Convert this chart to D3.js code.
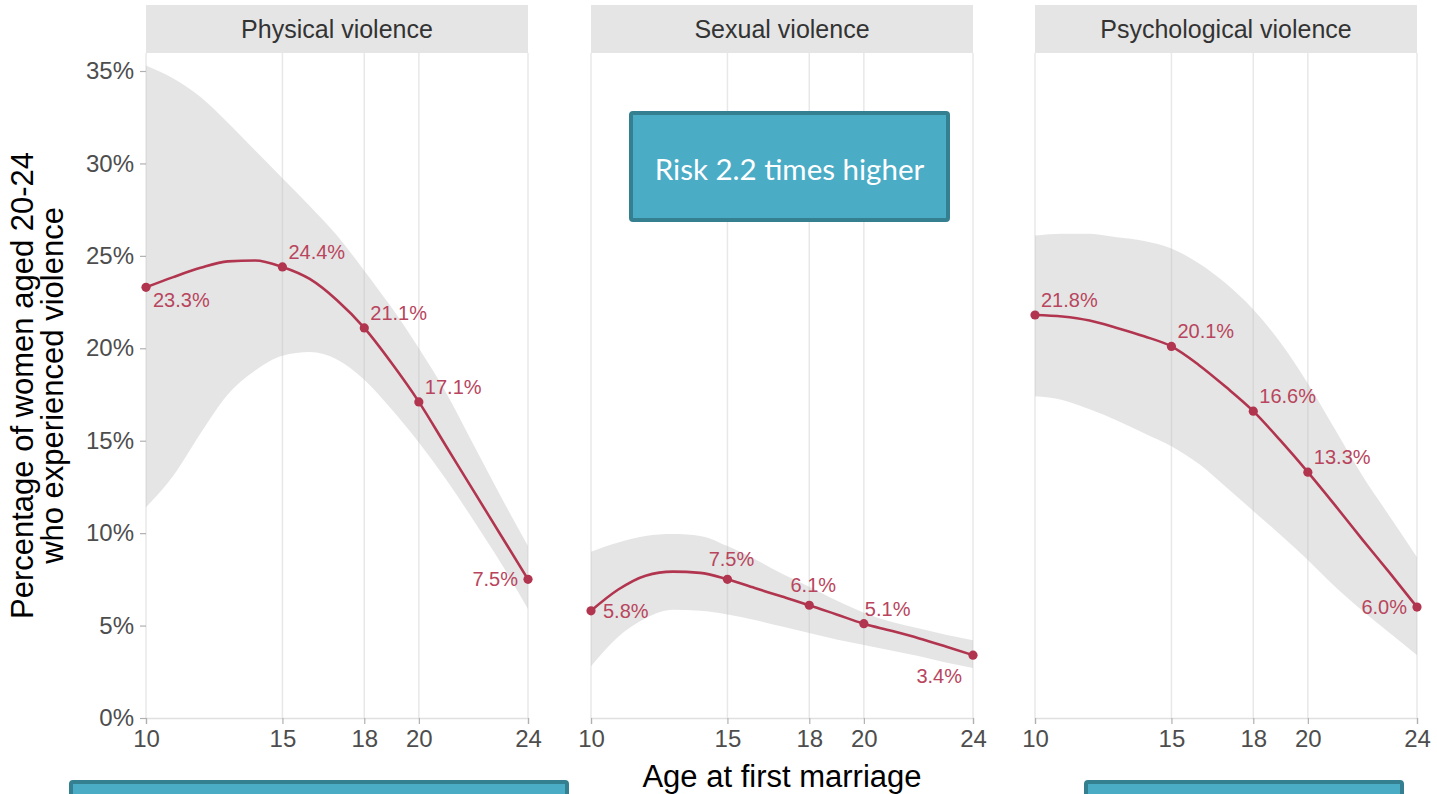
<!DOCTYPE html>
<html>
<head>
<meta charset="utf-8">
<script src="https://cdn.jsdelivr.net/npm/d3@7"></script>
<style>
  html, body { margin: 0; padding: 0; background: #ffffff; }
  svg { display: block; }
</style>
</head>
<body>
<svg id="chart" width="1437" height="794"></svg>
<script>
// ---------------- DATA ----------------
const panelNames = ["Physical violence", "Sexual violence", "Psychological violence"];
const ages = [10, 15, 18, 20, 24];
const physical = [23.3, 24.4, 21.1, 17.1, 7.5];
const sexual = [5.8, 7.5, 6.1, 5.1, 3.4];
const psychological = [21.8, 20.1, 16.6, 13.3, 6.0];

// fitted curve and confidence band read at each single year of age
const curveAges = [10, 11, 12, 13, 14, 15, 16, 17, 18, 19, 20, 21, 22, 23, 24];
const physicalFit = [23.3, 23.85, 24.35, 24.7, 24.75, 24.4, 23.75, 22.6, 21.1, 19.2, 17.1, 14.7, 12.3, 9.9, 7.5];
const sexualFit = [5.8, 6.95, 7.7, 7.92, 7.85, 7.5, 7.03, 6.57, 6.1, 5.6, 5.1, 4.72, 4.32, 3.87, 3.4];
const psychFit = [21.8, 21.72, 21.5, 21.1, 20.65, 20.1, 19.1, 17.9, 16.6, 15.0, 13.3, 11.5, 9.65, 7.85, 6.0];

const physicalUpper = [35.3, 34.6, 33.6, 32.2, 30.7, 29.2, 27.7, 26.1, 24.2, 22.2, 20.0, 17.6, 14.8, 12.0, 9.3];
const physicalLower = [11.4, 13.1, 15.4, 17.5, 18.8, 19.6, 19.8, 19.4, 18.3, 16.7, 14.9, 12.9, 10.7, 8.4, 5.9];
const sexualUpper = [9.0, 9.5, 9.85, 9.95, 9.85, 9.3, 8.6, 7.8, 7.1, 6.35, 5.7, 5.2, 4.85, 4.5, 4.2];
const sexualLower = [2.8, 4.4, 5.4, 5.85, 5.8, 5.6, 5.3, 4.95, 4.6, 4.25, 3.95, 3.65, 3.35, 3.0, 2.7];
const psychUpper = [26.1, 26.2, 26.2, 26.0, 25.8, 25.4, 24.6, 23.5, 22.1, 20.3, 18.1, 15.6, 13.1, 10.9, 8.7];
const psychLower = [17.4, 17.2, 16.7, 16.1, 15.4, 14.7, 13.75, 12.5, 11.2, 9.9, 8.55, 7.1, 5.8, 4.6, 3.4];

const yTicks = [0, 5, 10, 15, 20, 25, 30, 35];
const xTicks = [10, 15, 18, 20, 24];

const yTitleLines = ["Percentage of women aged 20-24", "who experienced violence"];
const xTitle = "Age at first marriage";
const calloutText = "Risk 2.2 times higher";

// ---------------- LAYOUT / STYLE ----------------
const seriesValues = [physical, sexual, psychological];
const seriesFit = [physicalFit, sexualFit, psychFit];
const seriesUpper = [physicalUpper, sexualUpper, psychUpper];
const seriesLower = [physicalLower, sexualLower, psychLower];
// label placement codes per panel (style, not data)
const labelPlacement = [
  ["se", "ne", "ne", "ne", "w"],
  ["e", "n", "n", "nr", "sw"],
  ["ne", "ne", "ne", "ne", "w"]
];
const placeDefs = {
  se: { dx: 7, dy: 20, anchor: "start" },
  ne: { dx: 6, dy: -8, anchor: "start" },
  nr: { dx: 1, dy: -8, anchor: "start" },
  n:  { dx: 4, dy: -13, anchor: "middle" },
  e:  { dx: 12, dy: 7, anchor: "start" },
  w:  { dx: -10, dy: 7, anchor: "end" },
  sw: { dx: -11, dy: 28, anchor: "end" }
};

const panelLefts = [146, 591, 1035];
const panelWidth = 382;
const panelTop = 53;
const stripTop = 5;
const plotBottom = 718;

const lineColor = "#b1354f";
const labelColor = "#b8455d";
const font = "'Liberation Sans', Arial, Helvetica, sans-serif";

const svg = d3.select("#chart");

const y = d3.scaleLinear().domain([0, 35]).range([plotBottom, 71]);

panelNames.forEach((name, pi) => {
  const left = panelLefts[pi];
  const x = d3.scaleLinear().domain([10, 24]).range([left, left + panelWidth]);
  const g = svg.append("g");

  // strip
  g.append("rect")
    .attr("x", left).attr("y", stripTop)
    .attr("width", panelWidth).attr("height", panelTop - stripTop)
    .attr("fill", "#e5e5e5");
  g.append("text")
    .attr("x", left + panelWidth / 2).attr("y", (stripTop + panelTop) / 2)
    .attr("text-anchor", "middle").attr("dominant-baseline", "central")
    .attr("font-family", font).attr("font-size", 25).attr("fill", "#333333")
    .text(name);

  // vertical gridlines
  g.selectAll("line.grid").data(xTicks).enter().append("line")
    .attr("x1", d => x(d)).attr("x2", d => x(d))
    .attr("y1", panelTop).attr("y2", plotBottom)
    .attr("stroke", "#e8e8e8").attr("stroke-width", 1.5);

  // x axis
  const xAxis = d3.axisBottom(x).tickValues(xTicks).tickSize(6).tickPadding(6).tickFormat(d3.format("d"));
  const ax = g.append("g").attr("transform", `translate(0,${plotBottom})`).call(xAxis);
  ax.select(".domain").attr("stroke", "#e0e0e0").attr("stroke-width", 1.5);
  ax.selectAll(".tick line").attr("stroke", "#b0b0b0").attr("stroke-width", 1.2);
  ax.selectAll(".tick text").attr("font-family", font).attr("font-size", 24).attr("fill", "#4d4d4d");

  // band
  const bandData = curveAges.map((a, i) => ({ a, lo: seriesLower[pi][i], hi: seriesUpper[pi][i] }));
  const area = d3.area()
    .x(d => x(d.a)).y0(d => y(d.lo)).y1(d => y(d.hi))
    .curve(d3.curveMonotoneX);
  g.append("path").datum(bandData)
    .attr("d", area)
    .attr("fill", "#bdbdbd").attr("fill-opacity", 0.4);

  // fitted line
  const fit = curveAges.map((a, i) => ({ a, v: seriesFit[pi][i] }));
  const line = d3.line().x(d => x(d.a)).y(d => y(d.v)).curve(d3.curveMonotoneX);
  g.append("path").datum(fit)
    .attr("d", line)
    .attr("fill", "none").attr("stroke", lineColor).attr("stroke-width", 2.6);

  // observed points
  const pts = ages.map((a, i) => ({ a, v: seriesValues[pi][i] }));
  g.selectAll("circle.pt").data(pts).enter().append("circle")
    .attr("cx", d => x(d.a)).attr("cy", d => y(d.v)).attr("r", 4.6)
    .attr("fill", lineColor);

  g.selectAll("text.lbl").data(pts).enter().append("text")
    .attr("x", (d, i) => x(d.a) + placeDefs[labelPlacement[pi][i]].dx)
    .attr("y", (d, i) => y(d.v) + placeDefs[labelPlacement[pi][i]].dy)
    .attr("text-anchor", (d, i) => placeDefs[labelPlacement[pi][i]].anchor)
    .attr("font-family", font).attr("font-size", 20).attr("fill", labelColor)
    .text(d => d.v.toFixed(1) + "%");

  // y axis for first panel
  if (pi === 0) {
    const yAxis = d3.axisLeft(y).tickValues(yTicks).tickSize(6).tickPadding(6).tickFormat(d => d + "%");
    const ay = g.append("g").attr("transform", `translate(${left},0)`).call(yAxis);
    ay.select(".domain").remove();
    ay.selectAll(".tick line").attr("stroke", "#b0b0b0").attr("stroke-width", 1.2);
    ay.selectAll(".tick text").attr("font-family", font).attr("font-size", 24).attr("fill", "#4d4d4d");
  }
});

// axis titles
const yt = svg.append("text")
  .attr("transform", `translate(0,${(panelTop + plotBottom) / 2}) rotate(-90)`)
  .attr("text-anchor", "middle")
  .attr("font-family", font).attr("font-size", 31).attr("fill", "#000");
yTitleLines.forEach((t, i) => {
  yt.append("tspan").attr("x", 0).attr("y", 33 + i * 30).text(t);
});

svg.append("text")
  .attr("x", panelLefts[1] + panelWidth / 2).attr("y", 787)
  .attr("text-anchor", "middle")
  .attr("font-family", font).attr("font-size", 31).attr("fill", "#000")
  .text(xTitle);

// callout boxes
function box(x0, y0, w, h) {
  svg.append("rect")
    .attr("x", x0).attr("y", y0).attr("width", w).attr("height", h)
    .attr("rx", 2)
    .attr("fill", "#4bacc6").attr("stroke", "#347f90").attr("stroke-width", 4);
}
box(631, 113, 317, 107);
svg.append("text")
  .attr("x", 789.5).attr("y", 168)
  .attr("text-anchor", "middle").attr("dominant-baseline", "central")
  .attr("font-family", "Lato, 'Open Sans', sans-serif").attr("font-size", 29.5).attr("fill", "#ffffff")
  .text(calloutText);
box(71, 782, 496, 60);
box(1086, 782, 316, 60);
</script>
</body>
</html>
